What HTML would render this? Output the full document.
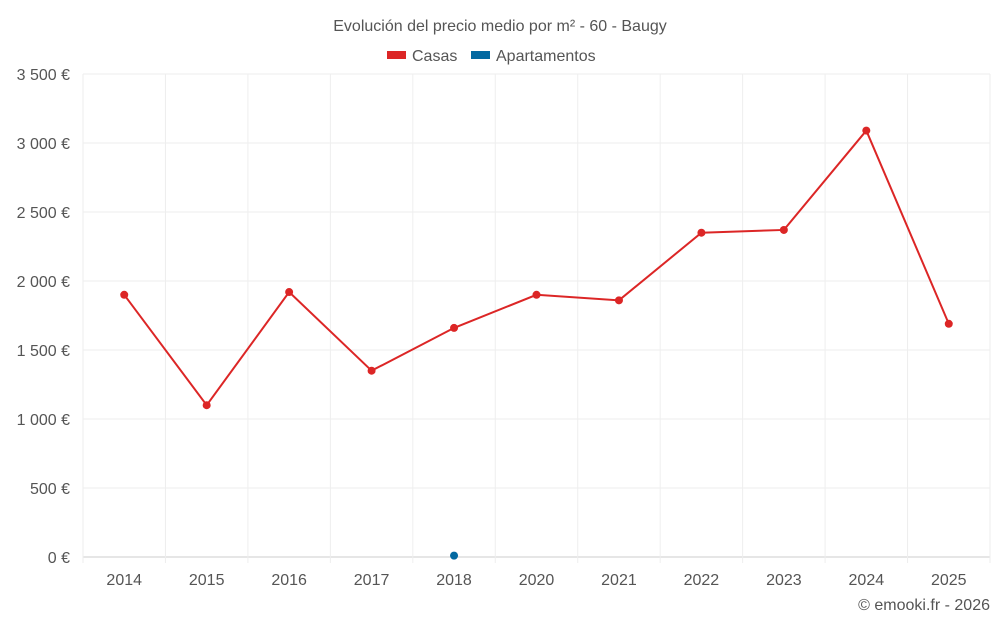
<!DOCTYPE html>
<html><head><meta charset="utf-8"><style>
body{margin:0;background:#fff;font-family:"Liberation Sans",sans-serif;}
svg text{font-family:"Liberation Sans",sans-serif;fill:#555;}
</style></head><body>
<svg id="chart" width="1000" height="625">
<text x="500" y="31" text-anchor="middle" font-size="16">Evolución del precio medio por m² - 60 - Baugy</text>
<g>
<g><rect x="387" y="51" width="19" height="8" fill="#dc2626"/><text x="412" y="61" font-size="16">Casas</text></g>
<g><rect x="471" y="51" width="19" height="8" fill="#0369a1"/><text x="496" y="61" font-size="16">Apartamentos</text></g>
</g>
<g id="grid"></g><g id="marks"></g>
<text x="990" y="610" text-anchor="end" font-size="16">© emooki.fr - 2026</text>
</svg>
<script>
const categories=["2014","2015","2016","2017","2018","2020","2021","2022","2023","2024","2025"];
const casas=[1900,1100,1920,1350,1660,1900,1860,2350,2370,3090,1690];
const apartamentos=[null,null,null,null,10,null,null,null,null,null,null];
const yTicks=[0,500,1000,1500,2000,2500,3000,3500];
const yTickLabels=["0 €","500 €","1 000 €","1 500 €","2 000 €","2 500 €","3 000 €","3 500 €"];
const NS="http://www.w3.org/2000/svg";
const L=83,R=990,T=74,B=557,maxY=3500;
const bw=(R-L)/categories.length;
const x=i=>L+bw*(i+0.5);
const y=v=>B-(v/maxY)*(B-T);
const grid=document.getElementById('grid'),marks=document.getElementById('marks');
function mk(t,a,p){const e=document.createElementNS(NS,t);for(const k in a)e.setAttribute(k,a[k]);p.appendChild(e);return e;}
yTicks.forEach((v,i)=>{
const l=mk('line',{x1:L,x2:R,y1:y(v),y2:y(v),stroke:i==0?'#ccc':'#eee'},grid);


const t=mk('text',{x:70,y:y(v)+6,'text-anchor':'end','font-size':16},grid);
t.textContent=yTickLabels[i];


});
for(let i=0;i<=categories.length;i++){
const l=mk('line',{x1:L+bw*i,x2:L+bw*i,y1:T,y2:B+6,stroke:'#eee'},grid);


}
categories.forEach((c,i)=>{
const t=mk('text',{x:x(i),y:585,'text-anchor':'middle','font-size':16},grid);
t.textContent=c;


});
const pts=casas.map((v,i)=>x(i)+','+y(v)).join(' ');
const pl=mk('polyline',{points:pts,fill:'none',stroke:'#dc2626','stroke-width':2},marks);


casas.forEach((v,i)=>{
const c=mk('circle',{cx:x(i),cy:y(v),r:4,fill:'#dc2626'},marks);


});
apartamentos.forEach((v,i)=>{if(v==null)return;
const c=mk('circle',{cx:x(i),cy:y(v),r:4,fill:'#0369a1'},marks);


});
</script>
</body></html>
